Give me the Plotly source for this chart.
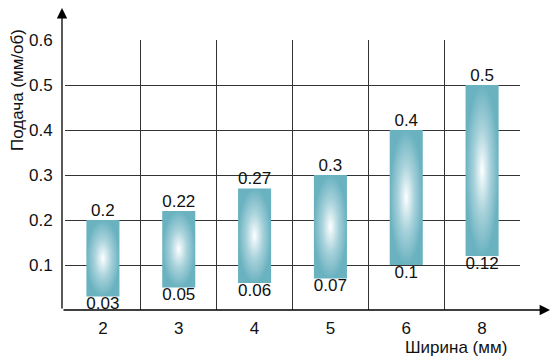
import plotly.graph_objects as go

# Ширина (мм) categories and feed range (мм/об)
widths = ["2", "3", "4", "5", "6", "8"]
feed_min = [0.03, 0.05, 0.06, 0.07, 0.1, 0.12]
feed_max = [0.2, 0.22, 0.27, 0.3, 0.4, 0.5]

y_ticks = [0.1, 0.2, 0.3, 0.4, 0.5, 0.6]

FONT = "Liberation Sans, Arial, sans-serif"
HALF = 0.218  # half bar width in category units

fig = go.Figure()

# floating range bars with a radial white-to-teal fill
for i, (lo, hi) in enumerate(zip(feed_min, feed_max)):
    fig.add_trace(go.Scatter(
        x=[i - HALF, i + HALF, i + HALF, i - HALF, i - HALF],
        y=[lo, lo, hi, hi, lo],
        mode="lines",
        fill="toself",
        line=dict(width=0, color="rgba(0,0,0,0)"),
        fillgradient=dict(
            type="radial",
            colorscale=[[0, "#ffffff"], [0.15, "#e3f1f4"], [0.5, "#a8d2db"],
                        [1, "#6ab2c0"]],
        ),
        hoverinfo="skip",
        showlegend=False,
    ))

idx = list(range(len(widths)))

# value labels: maximum above each bar, minimum below
fig.add_trace(go.Scatter(
    x=idx, y=feed_max, mode="text",
    text=[f"{v:g}" for v in feed_max],
    textposition="top center",
    textfont=dict(family=FONT, size=17, color="#111"),
    showlegend=False, hoverinfo="skip",
))
fig.add_trace(go.Scatter(
    x=idx, y=feed_min, mode="text",
    text=[f"{v:g}" for v in feed_min],
    textposition="bottom center",
    textfont=dict(family=FONT, size=17, color="#111"),
    showlegend=False, hoverinfo="skip",
))

grid_col = "#333333"
clear = "rgba(0,0,0,0)"

fig.update_xaxes(
    range=[-0.5, len(widths) - 0.5],
    tickmode="array", tickvals=idx, ticktext=widths,
    showgrid=False, zeroline=False, showline=False,
    ticks="outside", ticklen=3, tickcolor=clear,
    tickfont=dict(family=FONT, size=17, color="#111"),
    minor=dict(tickmode="array",
               tickvals=[k - 0.5 for k in range(len(widths) + 1)],
               showgrid=True, gridcolor=grid_col, gridwidth=1, ticks=""),
)
fig.update_yaxes(
    range=[0, 0.6],
    tickmode="array", tickvals=y_ticks,
    showgrid=True, gridcolor=grid_col, gridwidth=1,
    zeroline=False, showline=False, ticks="", showticklabels=False,
)

L, R, T, B, W, H = 65, 32, 40, 48, 552, 358
pw, ph = W - L - R, H - T - B

def px_x(p):
    return (p - L) / pw

def px_y(p):
    return (H - B - p) / ph

annotations = [
    # vertical axis with arrow
    dict(x=px_x(62), y=px_y(8), xref="paper", yref="paper",
         ax=0, ay=302, axref="pixel", ayref="pixel",
         text="", showarrow=True, arrowhead=2, arrowsize=1.6,
         arrowwidth=1.3, arrowcolor="#000"),
    # horizontal axis with arrow
    dict(x=px_x(550), y=px_y(310), xref="paper", yref="paper",
         ax=-488, ay=0, axref="pixel", ayref="pixel",
         text="", showarrow=True, arrowhead=2, arrowsize=1.6,
         arrowwidth=1.3, arrowcolor="#000"),
    dict(x=px_x(17), y=px_y(90), xref="paper", yref="paper",
         text="Подача (мм/об)", textangle=-90, showarrow=False,
         xanchor="center", yanchor="middle",
         font=dict(family=FONT, size=17, color="#111")),
    dict(x=px_x(456), y=px_y(347), xref="paper", yref="paper",
         text="Ширина (мм)", showarrow=False,
         xanchor="center", yanchor="middle",
         font=dict(family=FONT, size=17, color="#111")),
]

# y tick labels, right-aligned a little left of the vertical axis
for v in y_ticks:
    annotations.append(dict(
        x=px_x(55), y=v, xref="paper", yref="y",
        text=f"{v:g}", showarrow=False,
        xanchor="right", yanchor="middle",
        font=dict(family=FONT, size=17, color="#111"),
    ))

fig.update_layout(
    width=W, height=H,
    margin=dict(l=L, r=R, t=T, b=B),
    paper_bgcolor="white", plot_bgcolor="white",
    annotations=annotations,
    showlegend=False,
)

fig.write_html("out.html", config={"displayModeBar": False})
